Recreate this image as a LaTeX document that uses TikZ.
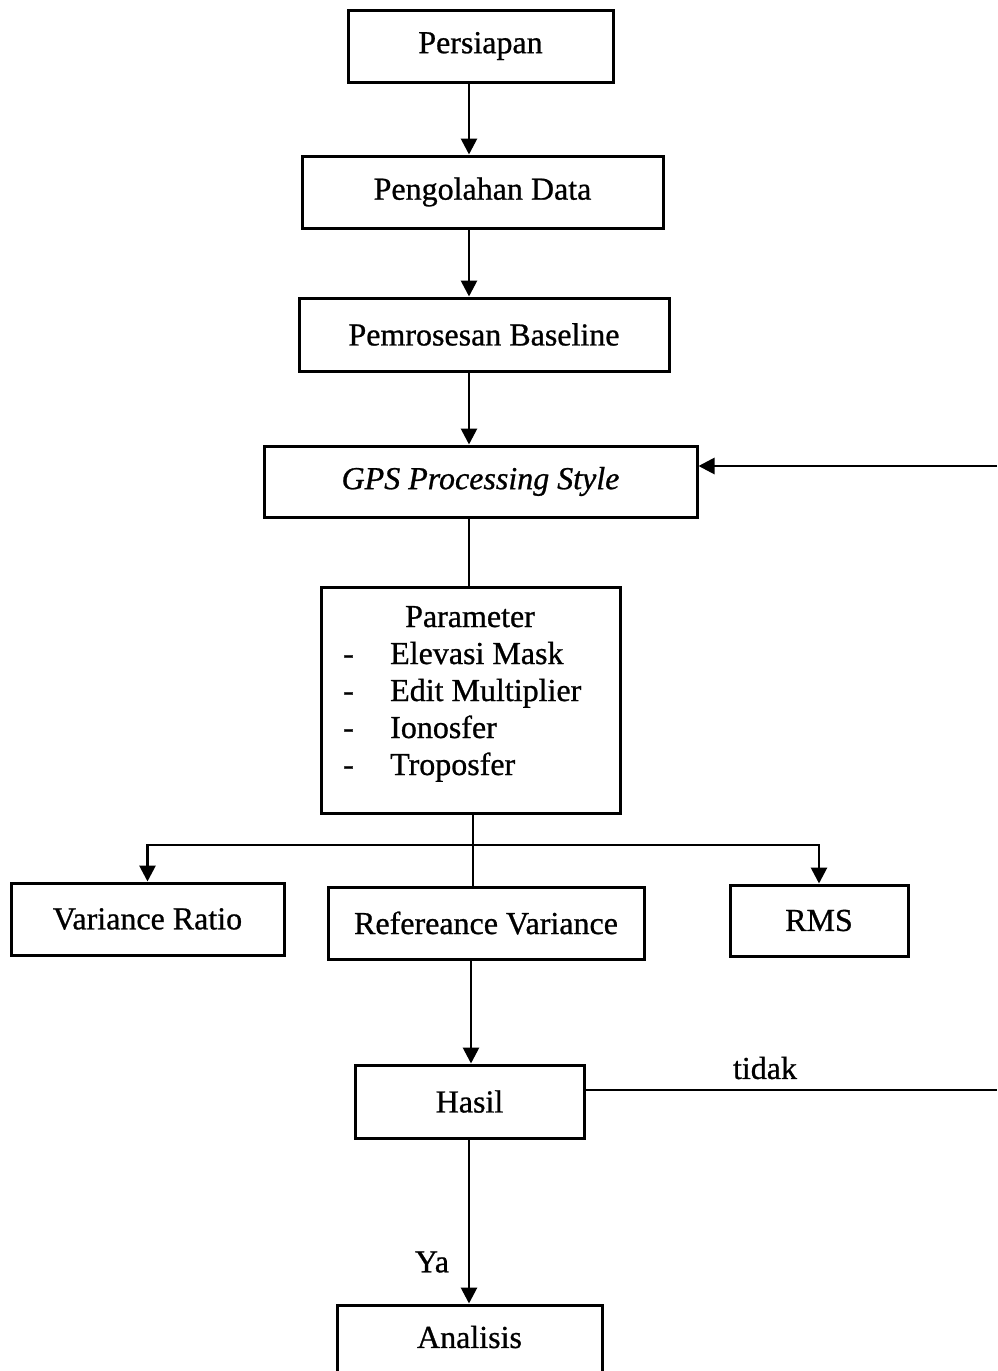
\documentclass[tikz,border=0pt]{standalone}
\usepackage{fontspec}
\setmainfont[FakeBold=0.8]{Liberation Serif}
\usetikzlibrary{arrows.meta}
\begin{document}
\begin{tikzpicture}[x=1pt,y=-1pt,
  every node/.style={font=\fontsize{32}{37}\selectfont},
  box/.style={draw, line width=3pt, inner sep=0pt, align=center},
  conn/.style={line width=2.8pt},
  arr/.style={conn, -{Triangle[length=16pt,width=16pt]}},
  lbl/.style={inner sep=0pt}]
\useasboundingbox (0,0) rectangle (997,1371);
% boxes
\node[box, minimum width=265pt, minimum height=72pt] (persiapan) at (480.5,46) {Persiapan};
\node[box, minimum width=361pt, minimum height=72pt] (pengolahan) at (482.5,192) {Pengolahan Data};
\node[box, minimum width=370pt, minimum height=73pt] (baseline) at (484,334.5) {Pemrosesan Baseline};
\node[box, minimum width=433pt, minimum height=71pt] (gps) at (480.5,481.5) {\itshape GPS Processing Style};
\node[box, minimum width=299pt, minimum height=226pt] (param) at (470.5,700) {};
\node[box, minimum width=273pt, minimum height=72pt] (vr) at (147.5,919) {Variance Ratio};
\node[box, minimum width=316pt, minimum height=72pt] (ref) at (486,923) {Refereance Variance};
\node[box, minimum width=178pt, minimum height=71pt] (rms) at (819,920.5) {RMS};
\node[box, minimum width=229pt, minimum height=73pt] (hasil) at (469.5,1101.5) {Hasil};
\node[box, minimum width=265pt, minimum height=100pt, text depth=0pt] (analisis) at (469.5,1355) {};
\node[lbl] (analisistxt) at (469.5,1337) {Analisis};
% parameter text
\node[lbl, anchor=base] (ptitle) at (470,627) {Parameter};
\node[lbl, anchor=base west] (d1) at (343,664) {-};
\node[lbl, anchor=base west] (p1) at (390,664) {Elevasi Mask};
\node[lbl, anchor=base west] (d2) at (343,701) {-};
\node[lbl, anchor=base west] (p2) at (390,701) {Edit Multiplier};
\node[lbl, anchor=base west] (d3) at (343,738) {-};
\node[lbl, anchor=base west] (p3) at (390,738) {Ionosfer};
\node[lbl, anchor=base west] (d4) at (343,775) {-};
\node[lbl, anchor=base west] (p4) at (390,775) {Troposfer};
% labels
\node[lbl] (tidak) at (765,1068) {tidak};
\node[lbl] (ya) at (432,1262) {Ya};
% coordinates
\coordinate (cx) at (469,0);
\coordinate (cm) at (473,0);
\coordinate (cr) at (471,0);
\coordinate (jm) at (473,845);
\coordinate (edgeTop) at (997,466);
\coordinate (edgeBot) at (997,1090);
% connectors
\draw[arr] (cx |- persiapan.south) -- (cx |- pengolahan.north);
\draw[arr] (cx |- pengolahan.south) -- (cx |- baseline.north);
\draw[arr] (cx |- baseline.south) -- (cx |- gps.north);
\draw[conn] (cx |- gps.south) -- (cx |- param.north);
\draw[conn] (cm |- param.south) -- (cm |- ref.north);
\draw[arr] (jm) -| (vr.north);
\draw[arr] (jm) -| (rms.north);
\draw[arr] (cr |- ref.south) -- (cr |- hasil.north);
\draw[conn] (hasil.east |- edgeBot) -- (edgeBot);
\draw[arr] (edgeTop) -- (gps.east |- edgeTop);
\draw[arr] (cx |- hasil.south) -- (cx |- analisis.north);
\end{tikzpicture}
\end{document}
